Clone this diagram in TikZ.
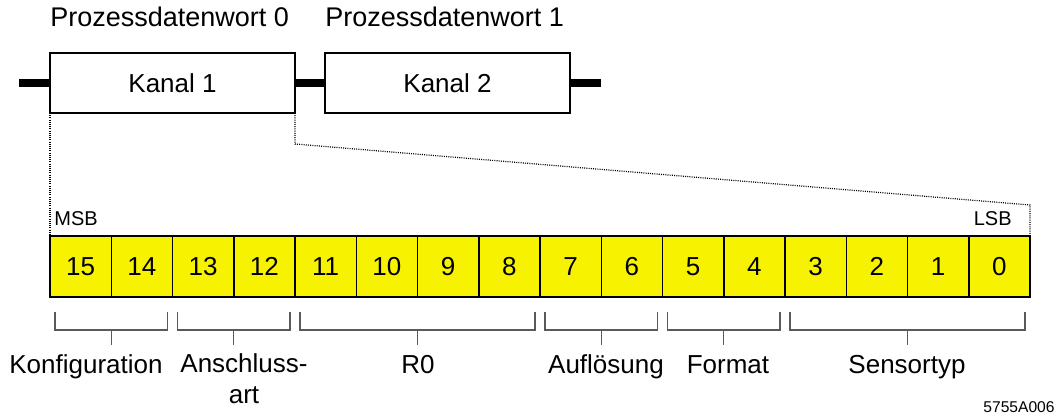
\documentclass[tikz,border=0pt]{standalone}
\usepackage{fontspec}
\setmainfont{Liberation Sans}
\usetikzlibrary{calc}
\usetikzlibrary{positioning}

\definecolor{bitgelb}{RGB}{247,242,0}
\definecolor{klammergrau}{RGB}{90,90,90}

\begin{document}
\begin{tikzpicture} [x=0.5pt, y=-0.5pt, font=\fontsize{13}{15.2}\selectfont,
  kanal/.style={draw, line width=0.7pt, minimum width=122.5pt, minimum height=30pt, inner sep=0pt, outer sep=0pt},
  wort/.style={font=\fontsize{13.5}{16}\selectfont, inner sep=0pt, anchor=base west},
  bit/.style={draw, fill=bitgelb, line width=0.75pt, minimum width=30.625pt, minimum height=30.5pt, inner sep=0pt, outer sep=0pt, anchor=north west},
  bus/.style={black, line width=3.6pt},
  punkt/.style={black, line width=0.6pt, dash pattern=on 0.5pt off 0.6pt},
  klammer/.style={klammergrau, line width=0.55pt},
  klein/.style={font=\fontsize{10}{12}\selectfont, inner sep=0pt}]
\useasboundingbox (0,0) rectangle (1061,417);

% Kanaele
\node[kanal, anchor=north west] (k1) at (50,53) {Kanal 1};
\node[kanal, right=15pt of k1] (k2) {Kanal 2};
\node[wort] (w0) at ($(k1.north west)+(0,-26)$) {Prozessdatenwort 0};
\node[wort] (w1) at ($(k2.north west)+(0,-26)$) {Prozessdatenwort 1};
\coordinate (busA) at (19,83);
\coordinate (busB) at (601,83);
\draw[bus] (busA) -- (k1.west) (k1.east) -- (k2.west) (k2.east) -- (busB);

% Bits
\foreach \i in {0,...,15} \node[bit] (b\i) at ({50+(15-\i)*61.25},236) {\i};
\node[klein, anchor=base west] (msb) at ($(b15.north west)+(4,-10)$) {MSB};
\node[klein, anchor=base east] (lsb) at ($(b0.north east)+(-18,-10)$) {LSB};

\coordinate (knick) at ($(b0.north east)+(0,-31)$);
\draw[punkt] (k1.south west) -- (b15.north west);
\draw[punkt] (k1.south east) --++(0,31) -- (knick) -- (b0.north east);

% Gruppen
\foreach \a/\b/\lx/\ly/\txt in {15/14/86/373/Konfiguration, 13/12/244/403/{Anschluss-\\art}, 11/8/418/373/R0, 7/6/606/373/Auflösung, 5/4/728/373/Format, 3/0/907/373/Sensortyp} {
  \draw[klammer] ($(b\a.south west)+(5,15)$) --++(0,18) -| ($(b\b.south east)+(-5,15)$);
  \draw[klammer] ($(b\a.south west)!.5!(b\b.south east)+(0,33)$) --++(0,15);
  \node[anchor=base, align=center, inner sep=0pt] (l\a) at (\lx,\ly) {\txt};
}

\node[anchor=base east, inner sep=0pt, font=\fontsize{7.8}{9}\selectfont] (code) at (1055,412) {5755A006};

\end{tikzpicture}
\end{document}
